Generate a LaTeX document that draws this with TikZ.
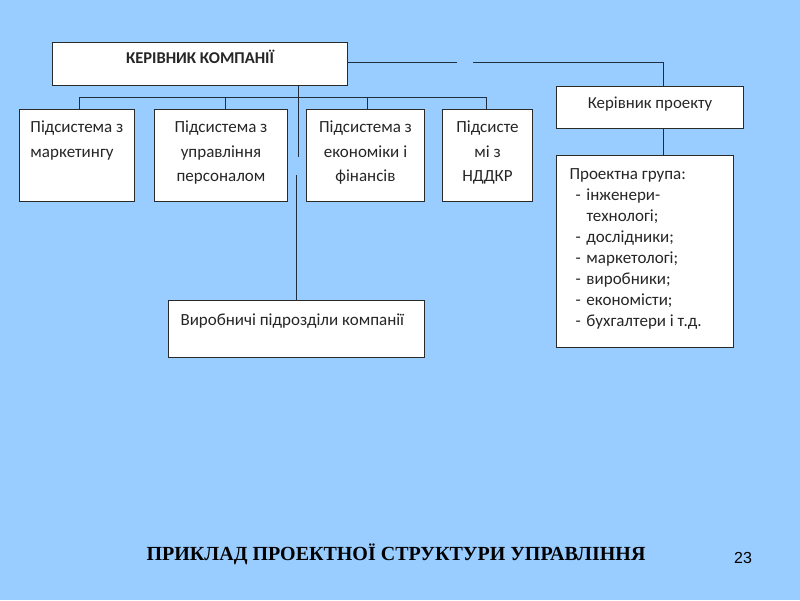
\documentclass[tikz,border=0pt]{standalone}
\usepackage{fontspec}
\setmainfont{Carlito}
\newfontfamily\capfont{Liberation Serif}
\newfontfamily\numfont{Liberation Sans}
\usetikzlibrary{calc}
\definecolor{bgblue}{HTML}{99CCFF}
\definecolor{linec}{HTML}{1E2E40}
\definecolor{boxline}{HTML}{2A2A2A}
\definecolor{txt}{HTML}{262626}
\newcommand{\bxtext}[4]{\parbox[c][#2pt][t]{#1pt}{#3\rule{0pt}{#4pt}}}
\tikzset{
  box/.style={draw=boxline, line width=1pt, fill=white, inner sep=0pt, anchor=north west, text=txt},
  conn/.style={draw=linec, line width=0.9pt},
  bodytxt/.style={font=\fontsize{17}{24.5}\selectfont},
  grptxt/.style={font=\fontsize{17}{21}\selectfont}
}
\begin{document}
\begin{tikzpicture}[x=1pt,y=-1pt]
\fill[bgblue] (0,0) rectangle (800,600);
\useasboundingbox (0,0) rectangle (800,600);

% company head
\node[box, font=\fontsize{16.5}{18}\selectfont\bfseries] (comp) at (52,42)
  {\bxtext{295}{43}{\centering\rule{0pt}{21pt}КЕРІВНИК КОМПАНІЇ}{0}};

% project manager
\node[box, font=\fontsize{16.8}{18}\selectfont] (pm) at (556,86)
  {\bxtext{187}{42}{\centering\rule{0pt}{22pt}Керівник проекту}{0}};

% project group
\node[box, grptxt] (pg) at (556,155)
  {\bxtext{177}{192}{\hspace*{13pt}\rule{0pt}{24pt}Проектна група:\\
  \hspace*{19pt}\makebox[11pt][l]{-}інженери-\\
  \hspace*{30pt}технологі;\\
  \hspace*{19pt}\makebox[11pt][l]{-}дослідники;\\
  \hspace*{19pt}\makebox[11pt][l]{-}маркетологі;\\
  \hspace*{19pt}\makebox[11pt][l]{-}виробники;\\
  \hspace*{19pt}\makebox[11pt][l]{-}економісти;\\
  \hspace*{19pt}\makebox[11pt][l]{-}бухгалтери і т.д.}{0}};

% subsystems
\node[box, bodytxt] (m1) at (19,109)
  {\bxtext{115}{92}{\hspace*{11pt}\rule{0pt}{23pt}Підсистема з\\\hspace*{11pt}маркетингу}{0}};
\node[box, bodytxt] (m2) at (154,109)
  {\bxtext{133}{92}{\centering\rule{0pt}{23pt}Підсистема з\\управління\\персоналом}{0}};
\node[box, bodytxt] (m3) at (306,109)
  {\bxtext{118}{92}{\centering\rule{0pt}{23pt}Підсистема з\\економіки і\\фінансів}{0}};
\node[box, bodytxt] (m4) at (442,109)
  {\bxtext{90}{92}{\centering\rule{0pt}{23pt}Підсисте\\мі з\\НДДКР}{0}};

% production units
\node[box, bodytxt] (prod) at (168,300)
  {\bxtext{256}{57}{\hspace*{12pt}\rule{0pt}{25pt}Виробничі підрозділи компанії}{0}};

% coordinates
\coordinate (bus) at (0,97);
\coordinate (vtop) at (298,157);
\coordinate (vlow) at (296,175);
\coordinate (g1) at (457,62);
\coordinate (g2) at (473,62);
\coordinate (rx) at (663,62);

% connectors
\draw[conn] (comp.east |- g1) -- (g1);
\draw[conn] (g2) -- (rx) -- (rx |- pm.north);
\draw[conn] (rx |- pm.south) -- (rx |- pg.north);
\draw[conn] (comp.south -| vtop) -- (vtop);
\draw[conn] (vlow) -- (prod.north -| vlow);
\draw[conn] ([xshift=2pt]m1.north |- bus) -- ([xshift=-1pt]m4.north |- bus);
\draw[conn] ([xshift=2pt]m1.north |- bus) -- ([xshift=2pt]m1.north);
\draw[conn] ([xshift=4pt]m2.north |- bus) -- ([xshift=4pt]m2.north);
\draw[conn] ([xshift=2pt]m3.north |- bus) -- ([xshift=2pt]m3.north);
\draw[conn] ([xshift=-1pt]m4.north |- bus) -- ([xshift=-1pt]m4.north);

% caption
\node[font=\capfont\bfseries\fontsize{20}{22}\selectfont, anchor=base] (cap) at (396,560)
  {ПРИКЛАД ПРОЕКТНОЇ СТРУКТУРИ УПРАВЛІННЯ};
\node[font=\numfont\fontsize{16}{19}\selectfont, anchor=base] (num) at (743,563) {23};
\end{tikzpicture}
\end{document}
